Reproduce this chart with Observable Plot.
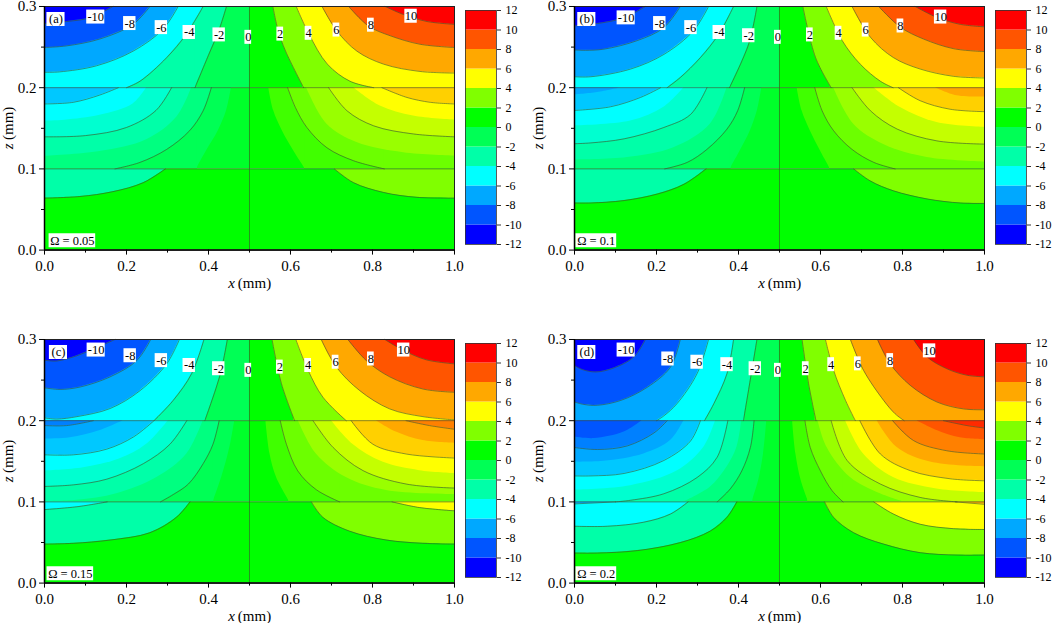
<!DOCTYPE html>
<html><head><meta charset="utf-8">
<script src="https://cdn.jsdelivr.net/npm/d3@7"></script>
<script src="https://cdn.jsdelivr.net/npm/@observablehq/plot@0.6"></script>
<style>
html,body{margin:0;padding:0;background:#fff}
#chart{position:relative;width:1052px;height:623px;overflow:hidden}
#chart>svg{position:absolute}
#chart svg, #chart svg text{font-family:"Liberation Serif","Times New Roman",Times,serif !important}
</style></head><body><div id="chart"></div>
<script>
// ---------- colour levels ----------
const barLevels = [-12,-10,-8,-6,-4,-2,0,2,4,6,8,10];
const barColors = ["#0000ff","#0055ff","#00a8ff","#00ffff","#00ffa8","#00ff55","#00ff00","#80ff00","#ffff00","#ffa800","#ff5500","#ff0000"];
const barTicks = [-12,-10,-8,-6,-4,-2,0,2,4,6,8,10,12];
const topColorsL = ["#00ff55","#00ffa8","#00ffff","#00a8ff","#0055ff","#0000ff"];
const topColorsR = ["#00ff00","#80ff00","#ffff00","#ffa800","#ff5500","#ff0000"];
const midColorsL = ["#00ff2a","#00ff55","#00ff80","#00ffa8","#00ffd0","#00ffff","#00c8ff","#00a8ff","#0080ff","#0055ff","#002aff"];
const midColorsR = ["#00ff00","#40ff00","#6cff00","#99ff00","#c4ff00","#ffff00","#ffd000","#ffa800","#ff8000","#ff5500","#ff2a00"];
const botColorsL = ["#00ff00","#00ffa8","#00ffff","#00a8ff"];
const botColorsR = ["#00ff00","#80ff00","#ffff00","#ffa800"];

// ---------- contour curves: [x, z] ----------
// (a)
const aTopL = [
 [[.444,.3],[.425,.27],[.4,.24],[.367,.2],[0,.2]],
 [[.387,.3],[.346,.266],[.298,.237],[.233,.208],[.2,.2],[0,.2]],
 [[.326,.3],[.289,.272],[.216,.245],[.127,.227],[.037,.2195],[0,.219]],
 [[.257,.3],[.216,.278],[.135,.26],[.054,.2515],[0,.2495]],
 [[.167,.3],[.11,.286],[.054,.2815],[0,.279]]];
const aMidL = [
 [[.456,.2],[.444,.1715],[.424,.147],[.395,.122],[.371,.1],[0,.1]],
 [[.407,.2],[.387,.1715],[.354,.147],[.298,.124],[.233,.108],[.172,.1],[0,.1]],
 [[.359,.2],[.323,.164],[.249,.136],[.135,.1215],[0,.1155]],
 [[.31,.2],[.272,.172],[.2,.151],[.1,.141],[0,.1395]],
 [[.249,.2],[.216,.18],[.135,.166],[.05,.16],[0,.159]],
 [[.18,.2],[.135,.191],[.07,.182],[0,.18]]];
const aBotL = [
 [[.295,.1],[.241,.083],[.167,.072],[.086,.066],[0,.064]]];
const aTopR = [
 [[.557,.3],[.57,.27],[.588,.245],[.632,.2],[1,.2]],
 [[.614,.3],[.645,.266],[.69,.229],[.745,.208],[.803,.2],[1,.2]],
 [[.677,.3],[.713,.27],[.762,.245],[.827,.229],[.916,.22],[1,.218]],
 [[.742,.3],[.79,.276],[.843,.264],[.916,.2535],[1,.2495]],
 [[.831,.3],[.876,.29],[.933,.2815],[1,.278]]];
const aMidR = [
 [[.547,.2],[.559,.1715],[.58,.147],[.608,.122],[.636,.1],[1,.1]],
 [[.593,.2],[.612,.1756],[.64,.151],[.689,.126],[.754,.11],[.829,.1],[1,.1]],
 [[.639,.2],[.689,.155],[.762,.1325],[.876,.12],[1,.116]],
 [[.693,.2],[.738,.1715],[.803,.153],[.9,.143],[1,.1395]],
 [[.754,.2],[.819,.1775],[.9,.165],[1,.16]],
 [[.823,.2],[.884,.188],[.941,.182],[1,.18]]];
const aBotR = [
 [[.707,.1],[.754,.083],[.827,.071],[.908,.065],[1,.064]]];
// (b)
const bTopL = [
 [[.445,.3],[.425,.254],[.378,.2],[0,.2]],
 [[.388,.3],[.352,.266],[.307,.237],[.258,.2125],[.226,.2],[0,.2]],
 [[.327,.3],[.29,.27],[.218,.241],[.137,.223],[.04,.2135],[0,.2135]],
 [[.258,.3],[.218,.274],[.153,.258],[.072,.2475],[.027,.246],[0,.2465]],
 [[.173,.3],[.12,.286],[.056,.279],[0,.276]]];
const bMidL = [
 [[.457,.2],[.446,.1715],[.429,.147],[.404,.122],[.38,.1],[0,.1]],
 [[.415,.2],[.398,.1715],[.372,.149],[.323,.124],[.275,.108],[.22,.1],[0,.1]],
 [[.372,.2],[.331,.155],[.242,.126],[.129,.114],[0,.111]],
 [[.323,.2],[.283,.167],[.218,.151],[.121,.137],[.04,.132],[0,.131]],
 [[.267,.2],[.218,.176],[.137,.159],[0,.153]],
 [[.21,.2],[.161,.188],[.088,.1765],[0,.172]],
 [[.113,.2],[.056,.194],[0,.191]]];
const bBotL = [
 [[.321,.1],[.267,.081],[.202,.069],[.121,.061],[.04,.058],[0,.058]]];
const bTopR = [
 [[.557,.3],[.588,.237],[.626,.2],[1,.2]],
 [[.614,.3],[.653,.258],[.697,.229],[.746,.208],[.777,.2],[1,.2]],
 [[.677,.3],[.722,.262],[.778,.237],[.843,.223],[.925,.214],[1,.212]],
 [[.742,.3],[.795,.2745],[.851,.26],[.925,.248],[1,.2445]],
 [[.831,.3],[.884,.2865],[.941,.278],[1,.275]]];
const bMidR = [
 [[.543,.2],[.555,.1715],[.575,.147],[.6,.122],[.624,.1],[1,.1]],
 [[.586,.2],[.604,.1715],[.632,.147],[.677,.124],[.73,.108],[.782,.1],[1,.1]],
 [[.632,.2],[.681,.155],[.754,.13],[.86,.114],[1,.1085]],
 [[.677,.2],[.722,.1715],[.787,.149],[.884,.1345],[1,.1305]],
 [[.73,.2],[.795,.1755],[.884,.157],[1,.151]],
 [[.79,.2],[.843,.184],[.916,.1735],[1,.1705]],
 [[.88,.2],[.933,.19],[1,.1885]]];
const bBotR = [
 [[.681,.1],[.722,.085],[.778,.073],[.86,.063],[.941,.058],[1,.0575]]];
// (c)
const cTopL = [
 [[.446,.3],[.428,.256],[.391,.2],[0,.2]],
 [[.389,.3],[.359,.258],[.314,.225],[.267,.2],[0,.2]],
 [[.329,.3],[.298,.27],[.233,.237],[.16,.215],[.079,.205],[.03,.202],[0,.2035]],
 [[.259,.3],[.225,.274],[.16,.254],[.087,.2415],[.038,.2385],[0,.2405]],
 [[.172,.3],[.127,.29],[.079,.28],[.03,.2735],[0,.2745]]];
const cMidL = [
 [[.464,.2],[.452,.167],[.432,.13],[.411,.1],[0,.1]],
 [[.426,.2],[.411,.171],[.387,.147],[.351,.122],[.314,.109],[.283,.1],[0,.1]],
 [[.387,.2],[.347,.159],[.274,.13],[.176,.11],[.079,.102],[0,.1005]],
 [[.347,.2],[.306,.171],[.241,.147],[.152,.128],[.071,.121],[0,.119]],
 [[.302,.2],[.249,.171],[.184,.153],[.095,.142],[0,.138]],
 [[.267,.2],[.217,.18],[.152,.165],[.071,.158],[0,.158]],
 [[.192,.2],[.136,.188],[.0625,.179],[0,.1775]],
 [[.119,.2],[.054,.194],[0,.194]]];
const cBotL = [
 [[.355,.1],[.322,.081],[.257,.062],[.16,.053],[.071,.049],[0,.048]],
 [[.153,.1],[.079,.094],[0,.0905]]];
const cTopR = [
 [[.555,.3],[.578,.2455],[.61,.2],[1,.2]],
 [[.613,.3],[.643,.262],[.679,.229],[.736,.2],[1,.2]],
 [[.675,.3],[.712,.266],[.769,.237],[.842,.2145],[.923,.205],[1,.201]],
 [[.74,.3],[.785,.274],[.842,.254],[.923,.239],[1,.235]],
 [[.83,.3],[.874,.287],[.931,.275],[1,.27]]];
const cMidR = [
 [[.54,.2],[.55,.159],[.566,.13],[.598,.1],[1,.1]],
 [[.575,.2],[.59,.171],[.618,.138],[.663,.115],[.72,.1],[1,.1]],
 [[.619,.2],[.663,.159],[.736,.13],[.834,.114],[1,.109]],
 [[.655,.2],[.704,.167],[.777,.1385],[.882,.122],[1,.117]],
 [[.7,.2],[.752,.171],[.825,.149],[.915,.1385],[1,.135]],
 [[.748,.2],[.801,.171],[.882,.159],[1,.154]],
 [[.809,.2],[.858,.186],[.923,.1755],[1,.172]],
 [[.882,.2],[.939,.194],[1,.1895]]];
const cBotR = [
 [[.651,.1],[.679,.081],[.744,.064],[.834,.053],[.923,.049],[1,.048]],
 [[.848,.1],[.915,.093],[1,.089]]];
// (d)
const dTopL = [
 [[.445,.3],[.43,.254],[.412,.2],[0,.2]],
 [[.388,.3],[.372,.258],[.34,.221],[.317,.2],[0,.2]],
 [[.327,.3],[.299,.258],[.25,.221],[.218,.206],[.2,.2],[0,.2]],
 [[.258,.3],[.234,.266],[.177,.241],[.113,.225],[.056,.219],[.023,.22],[0,.223]],
 [[.173,.3],[.145,.2785],[.096,.265],[.052,.26],[.019,.263],[0,.268]]];
const dMidL = [
 [[.469,.2],[.461,.159],[.449,.126],[.433,.1],[0,.1]],
 [[.438,.2],[.429,.167],[.408,.138],[.38,.116],[.348,.1],[0,.1]],
 [[.408,.2],[.396,.167],[.372,.143],[.331,.118],[.267,.1],[0,.1]],
 [[.374,.2],[.348,.155],[.299,.13],[.218,.11],[.137,.102],[.1,.1],[0,.1]],
 [[.344,.2],[.315,.167],[.25,.138],[.137,.12],[0,.1145]],
 [[.307,.2],[.283,.175],[.218,.151],[.121,.135],[.04,.132],[0,.132]],
 [[.267,.2],[.234,.1755],[.169,.159],[.072,.15],[0,.149]],
 [[.226,.2],[.194,.185],[.129,.169],[.056,.1645],[0,.167]],
 [[.165,.2],[.121,.186],[.048,.178],[0,.18]]];
const dBotL = [
 [[.396,.1],[.372,.081],[.331,.064],[.259,.05],[.153,.04],[.056,.037],[0,.037]],
 [[.277,.1],[.234,.085],[.169,.075],[.08,.07],[0,.07]],
 [[.1,.1],[0,.0975]]];
const dTopR = [
 [[.555,.3],[.571,.2455],[.589,.2],[1,.2]],
 [[.612,.3],[.632,.262],[.661,.225],[.685,.2],[1,.2]],
 [[.673,.3],[.705,.262],[.754,.225],[.782,.2085],[.804,.2],[1,.2]],
 [[.739,.3],[.77,.27],[.819,.2435],[.884,.223],[.949,.2145],[1,.2135]],
 [[.827,.3],[.86,.2785],[.908,.264],[.957,.256],[1,.254]]];
const dMidR = [
 [[.532,.2],[.54,.159],[.553,.126],[.571,.1],[1,.1]],
 [[.562,.2],[.575,.167],[.6,.138],[.628,.114],[.655,.1],[1,.1]],
 [[.594,.2],[.616,.167],[.673,.13],[.746,.11],[.803,.1],[1,.1]],
 [[.626,.2],[.665,.151],[.746,.122],[.843,.1055],[.933,.1],[1,.1]],
 [[.661,.2],[.705,.159],[.778,.13],[.884,.116],[1,.1115]],
 [[.696,.2],[.746,.159],[.819,.1385],[.916,.1285],[1,.126]],
 [[.738,.2],[.787,.167],[.868,.149],[1,.143]],
 [[.776,.2],[.827,.1755],[.908,.163],[1,.159]],
 [[.835,.2],[.884,.188],[.941,.179],[1,.1765]],
 [[.9,.2],[.957,.194],[1,.191]]];
const dBotR = [
 [[.61,.1],[.632,.081],[.681,.062],[.754,.048],[.843,.0375],[.933,.0345],[1,.0345]],
 [[.73,.1],[.778,.085],[.843,.0725],[.925,.067],[1,.066]],
 [[.929,.1],[1,.097]]];

// ---------- contour labels: [text, x, z] ----------
const aLabels = [["-10",.125,.287],["-8",.208,.279],["-6",.285,.274],["-4",.353,.268],["-2",.426,.265],["0",.497,.262],["2",.575,.266],["4",.644,.267],["6",.712,.271],["8",.796,.277],["10",.894,.288],["(a)",.028,.284],["Ω = 0.05",.068,.0115]];
const bLabels = [["-10",.126,.286],["-8",.208,.279],["-6",.284,.274],["-4",.353,.268],["-2",.425,.264],["0",.496,.262],["2",.574,.265],["4",.644,.267],["6",.71,.271],["8",.795,.276],["10",.893,.287],["(b)",.03,.284],["Ω = 0.1",.053,.0115]];
const cLabels = [["-10",.126,.287],["-8",.209,.28],["-6",.285,.274],["-4",.353,.268],["-2",.425,.264],["0",.497,.262],["2",.574,.266],["4",.643,.268],["6",.71,.272],["8",.796,.276],["10",.876,.287],["(c)",.034,.284],["Ω = 0.15",.063,.0115]];
const dLabels = [["-10",.126,.287],["-8",.228,.276],["-6",.299,.272],["-4",.372,.269],["-2",.441,.264],["0",.496,.262],["2",.564,.264],["4",.626,.269],["6",.691,.27],["8",.77,.274],["10",.866,.286],["(d)",.03,.284],["Ω = 0.2",.053,.0115]];

const xMajor = [0,.2,.4,.6,.8,1];
const xMinor = [.1,.3,.5,.7,.9];
const zMajor = [0,.1,.2,.3];
const zMinor = [.05,.15,.25];
const layerLines = [.1,.2];

// ---------- drawing ----------
const FW = 410, FH = 243.6, ML = 44, MT = 8, MR = 8, MB = 46;
const lineStroke = {stroke:"#3f4a33",strokeOpacity:.85,strokeWidth:.7};
const byX = c => [...c].sort((p,q)=>p[0]-q[0]);
// A curve that meets the floor of its layer before the wall: keep the curved part apart from the flat run along the floor.
function parts(c, lo){
  const s = byX(c), seam = .002;
  const first = s[0], last = s[s.length-1];
  if (first[0]===0 && first[1]===lo && s[1][1]===lo) return {pts:s.slice(1),wall:[0,s[1][0]+seam]};
  if (last[0]===1 && last[1]===lo && s[s.length-2][1]===lo) return {pts:s.slice(0,-1),wall:[s[s.length-2][0]-seam,1]};
  return {pts:s,wall:null};
}
function layer(curves, colors, x0, x1, lo, hi){
  const marks = [Plot.rect([0],{x1:()=>x0,x2:()=>x1,y1:()=>lo,y2:()=>hi,fill:colors[0]})];
  curves.forEach((c,i)=>{
    const {pts,wall} = parts(c,lo);
    if (wall) marks.push(Plot.rect([0],{x1:()=>wall[0],x2:()=>wall[1],y1:()=>lo,y2:()=>hi,fill:colors[i+1]}));
    marks.push(Plot.areaY(pts,{x:d=>d[0],y1:()=>hi,y2:d=>d[1],fill:colors[i+1],curve:"catmull-rom"}));
  });
  return marks;
}
function contourLines(curves, lo, lined){
  return curves.filter((c,i)=>lined(i)).map(c=>Plot.line(parts(c,lo).pts,{x:d=>d[0],y:d=>d[1],...lineStroke,curve:"catmull-rom"}));
}
const every = () => true, odd = i => i%2===1;

function panel(tl,ml,bl,tr,mr,br,labels){
  const w = t => (t.length*5.7+1)/FW, h = 14/(FH/0.3);
  return Plot.plot({
    width: ML+FW+MR, height: MT+FH+MB, marginLeft: ML, marginRight: MR, marginTop: MT, marginBottom: MB,
    style:{background:"transparent",fontSize:"14.5px",color:"#000",overflow:"visible"},
    x:{domain:[0,1],axis:null}, y:{domain:[0,.3],axis:null},
    marks:[
      ...layer(tl,topColorsL,0,.5,.2,.3),
      ...layer(tr,topColorsR,.5,1,.2,.3),
      ...layer(ml,midColorsL,0,.5,.1,.2),
      ...layer(mr,midColorsR,.5,1,.1,.2),
      ...layer(bl,botColorsL,0,.5,0,.1),
      ...layer(br,botColorsR,.5,1,0,.1),
      ...contourLines(tl,.2,every),...contourLines(tr,.2,every),
      ...contourLines(ml,.1,odd),...contourLines(mr,.1,odd),
      ...contourLines(bl,0,every),...contourLines(br,0,every),
      Plot.ruleY(layerLines,lineStroke),
      Plot.ruleX([.5],lineStroke),
      Plot.rect(labels,{x1:d=>d[1]-w(d[0])/2,x2:d=>d[1]+w(d[0])/2,y1:d=>d[2]-h/2,y2:d=>d[2]+h/2,fill:"#fff"}),
      Plot.text(labels,{x:d=>d[1],y:d=>d[2],text:d=>d[0],fontSize:12.5,fill:"#000"}),
      Plot.frame({stroke:"#222",strokeWidth:1}),
      Plot.ruleX([0],{stroke:"#000",strokeWidth:1.5}),
      Plot.ruleY([0],{stroke:"#000",strokeWidth:1.5}),
      Plot.axisX({ticks:xMajor,tickSize:5,tickPadding:5.5,tickFormat:".1f",label:null,fontSize:15,stroke:"#000"}),
      Plot.axisX({ticks:xMinor,tickSize:3,tickFormat:()=>"",label:null,stroke:"#000"}),
      Plot.axisY({ticks:zMajor,tickSize:5,tickPadding:3,tickFormat:".1f",label:null,fontSize:15,stroke:"#000"}),
      Plot.axisY({ticks:zMinor,tickSize:3,tickFormat:()=>"",label:null,stroke:"#000"}),
      Plot.text(["x"],{x:()=>.5,y:()=>0,text:d=>d,dx:-18,dy:33,fontSize:15,fontStyle:"italic",fill:"#000"}),
      Plot.text(["(mm)"],{x:()=>.5,y:()=>0,text:d=>d,dx:5,dy:33,fontSize:15,fill:"#000"}),
      Plot.text(["z"],{x:()=>0,y:()=>.15,text:d=>d,dx:-36,dy:18,rotate:-90,fontSize:15,fontStyle:"italic",fill:"#000"}),
      Plot.text(["(mm)"],{x:()=>0,y:()=>.15,text:d=>d,dx:-36,dy:-5,rotate:-90,fontSize:15,fill:"#000"})
    ]
  });
}
function colorbar(){
  const H = 234;
  return Plot.plot({
    width:31+8+26,height:H+20,marginLeft:8,marginRight:26,marginTop:10,marginBottom:10,
    style:{background:"transparent",fontSize:"12px",color:"#000",overflow:"visible"},
    x:{domain:[0,1],axis:null},y:{domain:[-12,12],axis:null},
    marks:[
      Plot.rect(barLevels.map((l,i)=>({l,c:barColors[i]})),{x1:()=>0,x2:()=>1,y1:d=>d.l,y2:d=>d.l+2,fill:d=>d.c}),
      Plot.frame({stroke:"#333",strokeWidth:.8}),
      Plot.axisY({anchor:"right",ticks:barTicks,tickSize:4,tickPadding:5,label:null,fontSize:12,stroke:"#333",tickFormat:d=>String(d)})
    ]
  });
}
const root = document.getElementById("chart");
function place(node,left,top){node.style.left=left+"px";node.style.top=top+"px";root.appendChild(node);}
place(panel(aTopL,aMidL,aBotL,aTopR,aMidR,aBotR,aLabels),44-ML,5.7-MT);
place(colorbar(),465-8,10-10);
place(panel(bTopL,bMidL,bBotL,bTopR,bMidR,bBotR,bLabels),574-ML,5.7-MT);
place(colorbar(),995-8,10-10);
place(panel(cTopL,cMidL,cBotL,cTopR,cMidR,cBotR,cLabels),44-ML,339.3-MT);
place(colorbar(),465-8,343.3-10);
place(panel(dTopL,dMidL,dBotL,dTopR,dMidR,dBotR,dLabels),574-ML,339.3-MT);
place(colorbar(),995-8,343.3-10);
</script></body></html>
